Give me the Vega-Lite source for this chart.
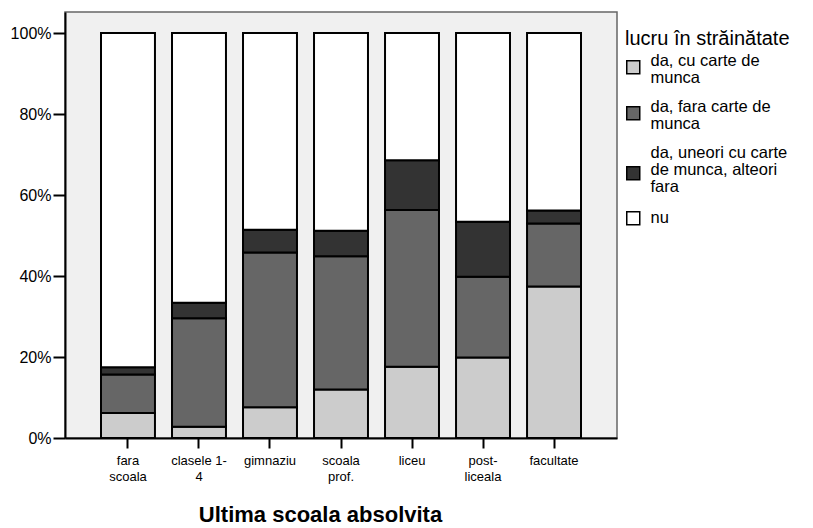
{
  "$schema": "https://vega.github.io/schema/vega-lite/v6.json",
  "width": 552,
  "height": 426,
  "autosize": "none",
  "padding": {"left": 65, "top": 12, "right": 196, "bottom": 90},
  "background": "white",
  "config": {
    "view": {"fill": "#f0f0f0", "stroke": "#666666", "strokeWidth": 1.5},
    "font": "Liberation Sans"
  },
  "data": {
    "values": [
      {"scoala": "fara scoala", "lucru": "da, cu carte de munca", "ord": 1, "pct": 6.2},
      {"scoala": "fara scoala", "lucru": "da, fara carte de munca", "ord": 2, "pct": 9.5},
      {"scoala": "fara scoala", "lucru": "da, uneori cu carte de munca, alteori fara", "ord": 3, "pct": 1.8},
      {"scoala": "fara scoala", "lucru": "nu", "ord": 4, "pct": 82.5},
      {"scoala": "clasele 1-4", "lucru": "da, cu carte de munca", "ord": 1, "pct": 2.8},
      {"scoala": "clasele 1-4", "lucru": "da, fara carte de munca", "ord": 2, "pct": 26.8},
      {"scoala": "clasele 1-4", "lucru": "da, uneori cu carte de munca, alteori fara", "ord": 3, "pct": 3.8},
      {"scoala": "clasele 1-4", "lucru": "nu", "ord": 4, "pct": 66.6},
      {"scoala": "gimnaziu", "lucru": "da, cu carte de munca", "ord": 1, "pct": 7.6},
      {"scoala": "gimnaziu", "lucru": "da, fara carte de munca", "ord": 2, "pct": 38.2},
      {"scoala": "gimnaziu", "lucru": "da, uneori cu carte de munca, alteori fara", "ord": 3, "pct": 5.6},
      {"scoala": "gimnaziu", "lucru": "nu", "ord": 4, "pct": 48.6},
      {"scoala": "scoala prof.", "lucru": "da, cu carte de munca", "ord": 1, "pct": 12.0},
      {"scoala": "scoala prof.", "lucru": "da, fara carte de munca", "ord": 2, "pct": 32.9},
      {"scoala": "scoala prof.", "lucru": "da, uneori cu carte de munca, alteori fara", "ord": 3, "pct": 6.3},
      {"scoala": "scoala prof.", "lucru": "nu", "ord": 4, "pct": 48.8},
      {"scoala": "liceu", "lucru": "da, cu carte de munca", "ord": 1, "pct": 17.6},
      {"scoala": "liceu", "lucru": "da, fara carte de munca", "ord": 2, "pct": 38.7},
      {"scoala": "liceu", "lucru": "da, uneori cu carte de munca, alteori fara", "ord": 3, "pct": 12.3},
      {"scoala": "liceu", "lucru": "nu", "ord": 4, "pct": 31.4},
      {"scoala": "post-liceala", "lucru": "da, cu carte de munca", "ord": 1, "pct": 19.9},
      {"scoala": "post-liceala", "lucru": "da, fara carte de munca", "ord": 2, "pct": 19.9},
      {"scoala": "post-liceala", "lucru": "da, uneori cu carte de munca, alteori fara", "ord": 3, "pct": 13.6},
      {"scoala": "post-liceala", "lucru": "nu", "ord": 4, "pct": 46.6},
      {"scoala": "facultate", "lucru": "da, cu carte de munca", "ord": 1, "pct": 37.4},
      {"scoala": "facultate", "lucru": "da, fara carte de munca", "ord": 2, "pct": 15.6},
      {"scoala": "facultate", "lucru": "da, uneori cu carte de munca, alteori fara", "ord": 3, "pct": 3.2},
      {"scoala": "facultate", "lucru": "nu", "ord": 4, "pct": 43.8}
    ]
  },
  "mark": {"type": "bar", "stroke": "black", "strokeWidth": 2},
  "encoding": {
    "x": {
      "field": "scoala",
      "type": "nominal",
      "sort": ["fara scoala", "clasele 1-4", "gimnaziu", "scoala prof.", "liceu", "post-liceala", "facultate"],
      "scale": {"paddingInner": 0.24, "paddingOuter": 0.507},
      "axis": {
        "title": "Ultima scoala absolvita",
        "titleFontSize": 22,
        "titleFontWeight": "bold",
        "titleColor": "black",
        "titlePadding": 21,
        "titleX": 255,
        "labelAngle": 0,
        "labelFontSize": 13,
        "labelColor": "black",
        "labelPadding": 6,
        "labelLineHeight": 16,
        "labelExpr": "datum.label == 'fara scoala' ? ['fara', 'scoala'] : datum.label == 'clasele 1-4' ? ['clasele 1-', '4'] : datum.label == 'scoala prof.' ? ['scoala', 'prof.'] : datum.label == 'post-liceala' ? ['post-', 'liceala'] : datum.label",
        "tickColor": "black",
        "tickWidth": 2,
        "tickSize": 10,
        "domainColor": "black",
        "domainWidth": 2
      }
    },
    "y": {
      "field": "pct",
      "type": "quantitative",
      "stack": "normalize",
      "scale": {"domain": [0, 1.052], "nice": false},
      "axis": {
        "title": null,
        "values": [0, 0.2, 0.4, 0.6, 0.8, 1.0],
        "format": ".0%",
        "labelFontSize": 16,
        "labelColor": "black",
        "labelPadding": 2,
        "tickColor": "black",
        "tickWidth": 2,
        "tickSize": 12,
        "domainColor": "black",
        "domainWidth": 2,
        "grid": false
      }
    },
    "order": {"field": "ord", "type": "quantitative"},
    "color": {
      "field": "lucru",
      "type": "nominal",
      "scale": {
        "domain": ["da, cu carte de munca", "da, fara carte de munca", "da, uneori cu carte de munca, alteori fara", "nu"],
        "range": ["#cccccc", "#666666", "#333333", "#ffffff"]
      },
      "legend": {
        "title": "lucru în străinătate",
        "orient": "none",
        "legendX": 560,
        "legendY": 17,
        "titleFontSize": 20,
        "titleFontWeight": "normal",
        "titleColor": "black",
        "titlePadding": 10,
        "labelFontSize": 16.5,
        "labelColor": "black",
        "labelLimit": 220,
        "labelOffset": 9,
        "rowPadding": 12,
        "symbolType": "square",
        "symbolSize": 169,
        "symbolStrokeColor": "black",
        "symbolStrokeWidth": 1.5,
        "labelExpr": "datum.label == 'da, cu carte de munca' ? ['da, cu carte de', 'munca'] : datum.label == 'da, fara carte de munca' ? ['da, fara carte de', 'munca'] : datum.label == 'nu' ? 'nu' : ['da, uneori cu carte', 'de munca, alteori', 'fara']",
        "encoding": {
          "labels": {
            "lineHeight": {"value": 17},
            "dy": {"value": {"expr": "datum.value == 'nu' ? 0 : datum.value == 'da, uneori cu carte de munca, alteori fara' ? -20 : -6"}}
          }
        }
      }
    }
  }
}
